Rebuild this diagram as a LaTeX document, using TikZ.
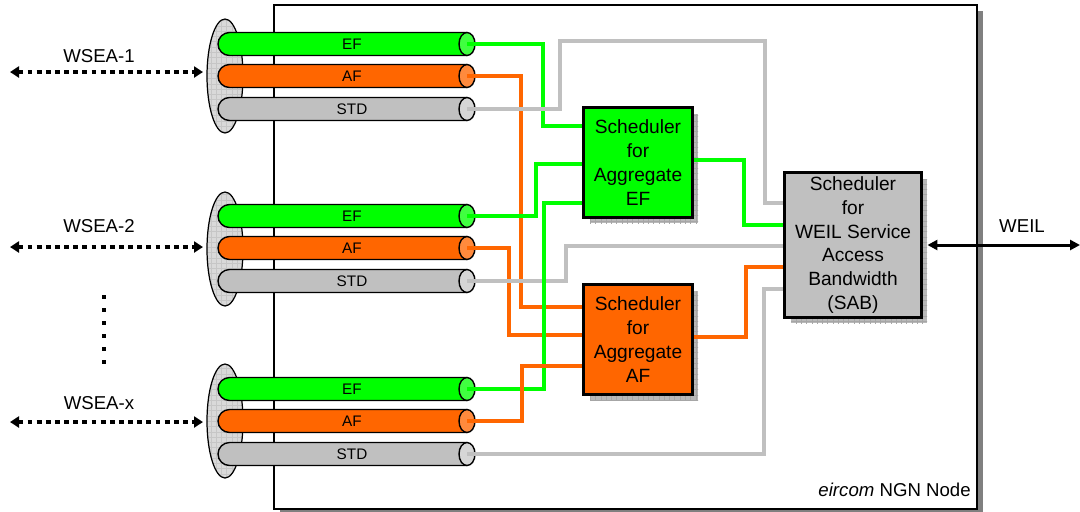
\documentclass[tikz,border=0pt]{standalone}
\usepackage{fontspec}
\setmainfont{Liberation Sans}
\usetikzlibrary{arrows.meta,patterns}
\definecolor{cgreen}{HTML}{00FF00}
\definecolor{corange}{HTML}{FF6600}
\definecolor{cgray}{HTML}{C0C0C0}
\definecolor{cgreencap}{HTML}{40FF40}
\definecolor{corangecap}{HTML}{FF8A3D}
\definecolor{cgraycap}{HTML}{D6D6D6}
\definecolor{shadowgray}{HTML}{808080}
\definecolor{hatchgray}{HTML}{B8B8B8}
\tikzset{
  conn/.style={line width=1.9pt},
  gline/.style={conn, draw=cgreen},
  oline/.style={conn, draw=corange},
  sline/.style={conn, draw=cgray},
  tubeedge/.style={draw=black, line width=0.8pt},
  tubelabel/.style={font=\fontsize{8.7}{10}\selectfont, inner sep=0pt},
  sched/.style={draw=black, line width=1.1pt, align=center, inner sep=0pt,
    font=\fontsize{10.9}{13.5}\selectfont},
  boxshadow/.style={pattern=grid, pattern color=gray!70, preaction={fill=hatchgray}},
  portoval/.style={draw=black, line width=0.7pt, pattern=grid, pattern color=gray!45, preaction={fill=gray!30}},
  wsea/.style={line width=2.2pt, dash pattern=on 2.8pt off 2.4pt, {Triangle[length=1.8mm,width=2.2mm]}-{Triangle[length=1.8mm,width=2.2mm]}},
  weil/.style={line width=1.7pt, {Triangle[length=2mm,width=2mm]}-{Triangle[length=2mm,width=2mm]}},
  lbl/.style={font=\fontsize{10.6}{12}\selectfont, inner sep=0pt},
}
\newcommand{\qtube}[5]{%
  \draw[tubeedge, fill=#3] (467,#2-11.5) -- (229.5,#2-11.5) arc[start angle=90, end angle=270, radius=2.3mm] -- (467,#2+11.5);
  \draw[tubeedge, fill=#4] (467,#2) ellipse[x radius=1.6mm, y radius=2.3mm];
  \node[tubelabel] (#1l) at (352,#2) {#5};
  \coordinate (#1) at (467,#2);
}
\begin{document}
\begin{tikzpicture}[x=0.2mm, y=-0.2mm]
\useasboundingbox (0,0) rectangle (1080,511);
\clip (0,0) rectangle (1080,511);
% main node box
\fill[shadowgray] (280,11) rectangle (983,515);
\draw[line width=0.9pt, fill=white] (274,5) rectangle (977,509);
\node[lbl, anchor=base east] (nodelbl) at (971,496) {\textit{eircom} NGN Node};
% port ovals
\draw[portoval] (225,76) ellipse[x radius=3.6mm, y radius=11.4mm];
\draw[portoval] (225,249) ellipse[x radius=3.6mm, y radius=11.4mm];
\draw[portoval] (225,421) ellipse[x radius=3.6mm, y radius=11.4mm];
% tubes
\qtube{g1ef}{44}{cgreen}{cgreencap}{EF}
\qtube{g1af}{76}{corange}{corangecap}{AF}
\qtube{g1std}{109}{cgray}{cgraycap}{STD}
\qtube{g2ef}{216}{cgreen}{cgreencap}{EF}
\qtube{g2af}{248}{corange}{corangecap}{AF}
\qtube{g2std}{281}{cgray}{cgraycap}{STD}
\qtube{g3ef}{389}{cgreen}{cgreencap}{EF}
\qtube{g3af}{421}{corange}{corangecap}{AF}
\qtube{g3std}{454}{cgray}{cgraycap}{STD}
% WSEA arrows and labels
\node[lbl] (w1) at (99,56) {WSEA-1};
\node[lbl] (w2) at (99,226) {WSEA-2};
\node[lbl] (w3) at (99,403) {WSEA-x};
\coordinate (w1a) at (10,72);  \coordinate (w1b) at (203,72);
\coordinate (w2a) at (10,247); \coordinate (w2b) at (203,247);
\coordinate (w3a) at (10,422); \coordinate (w3b) at (203,422);
\draw[wsea] (w1a) -- (w1b);
\draw[wsea] (w2a) -- (w2b);
\draw[wsea] (w3a) -- (w3b);
\coordinate (dotsa) at (104,295);
\coordinate (dotsb) at (104,364);
\draw[line width=2.3pt, dash pattern=on 2.3pt off 5.1pt] (dotsa) -- (dotsb);
% box shadows
\path[boxshadow] (590,114) rectangle (698,223);
\path[boxshadow] (590,291) rectangle (698,400);
\path[boxshadow] (791,179) rectangle (927,323);
% scheduler nodes
\node[sched, fill=cgreen, minimum width=21.6mm, minimum height=21.8mm] (efbox) at (638,162.5) {Scheduler\\for\\Aggregate\\EF};
\node[sched, fill=corange, minimum width=21.6mm, minimum height=21.8mm] (afbox) at (638,339.5) {Scheduler\\for\\Aggregate\\AF};
\node[sched, fill=cgray, minimum width=27.2mm, minimum height=28.8mm] (sab) at (853,245) {Scheduler\\for\\WEIL Service\\Access\\Bandwidth\\(SAB)};
% connectors
\draw[gline] (g1ef) -| (543,126) -- (efbox.west |- 0,126);
\draw[oline] (g1af) -| (521,307) -- (afbox.west |- 0,307);
\draw[sline] (g1std) -| (560,41) -| (765,203) -- (sab.west |- 0,203);
\draw[gline] (g2ef) -| (536,164) -- (efbox.west |- 0,164);
\draw[oline] (g2af) -| (509,335) -- (afbox.west |- 0,335);
\draw[sline] (g2std) -| (566,246) -- (sab.west |- 0,246);
\draw[gline] (g3ef) -| (544,203) -- (efbox.west |- 0,203);
\draw[oline] (g3af) -| (522,366) -- (afbox.west |- 0,366);
\draw[sline] (g3std) -| (764,289) -- (sab.west |- 0,289);
\draw[gline] (efbox.east |- 0,160) -| (744,225) -- (sab.west |- 0,225);
\draw[oline] (afbox.east |- 0,337) -| (746,267) -- (sab.west |- 0,267);
% redraw box borders on top of connector ends
\draw[line width=1.1pt] (efbox.south west) rectangle (efbox.north east);
\draw[line width=1.1pt] (afbox.south west) rectangle (afbox.north east);
\draw[line width=1.1pt] (sab.south west) rectangle (sab.north east);
% WEIL
\coordinate (weilend) at (1080,245);
\draw[weil] ([xshift=1.1mm]sab.east) -- (weilend);
\node[lbl] (weil) at (1022,226) {WEIL};
\end{tikzpicture}
\end{document}
